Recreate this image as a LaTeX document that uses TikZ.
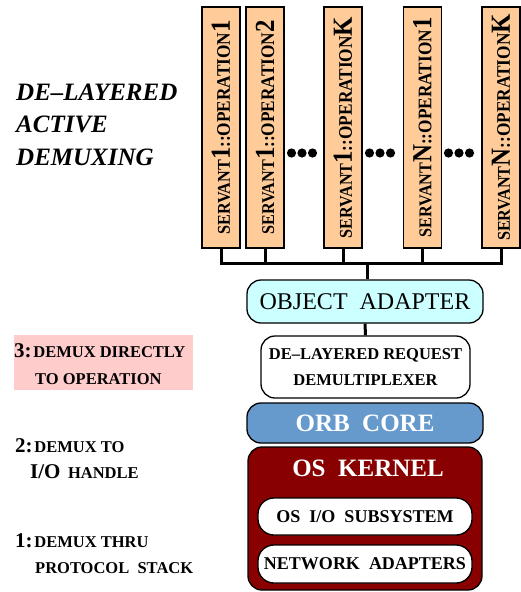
\documentclass[tikz,border=0pt]{standalone}
\usepackage{fontspec}
\setmainfont{Liberation Serif}
\definecolor{peach}{HTML}{FFCC99}
\definecolor{oacyan}{HTML}{CCFFFF}
\definecolor{orbblue}{HTML}{6699CC}
\definecolor{kernred}{HTML}{880000}
\definecolor{pinkbg}{HTML}{FFCCCC}
\newcommand{\fsz}[1]{\fontsize{#1}{#1}\selectfont}
\newcommand{\servtext}[2]{\rotatebox{90}{\scalebox{1.08}[1.2]{\bfseries\fsz{15}SERVANT{\fsz{23}#1}\fsz{16}::OPERATION{\fsz{23}#2}}}}
\begin{document}
\begin{tikzpicture}[x=1pt,y=-1pt,
  servant/.style={draw, line width=1.3pt, fill=peach, minimum width=38pt, minimum height=241pt, inner sep=0pt},
  layer/.style={draw, line width=1.3pt, rounded corners=14pt, inner sep=0pt, align=center},
  pill/.style={draw, line width=1.3pt, rounded corners=16pt, fill=white, minimum width=214pt, inner sep=0pt, font=\bfseries\fsz{18}},
  conn/.style={line width=3pt},
  lbl/.style={anchor=base west, inner sep=0pt, font=\bfseries},
  dot/.style={fill=black}
]
\useasboundingbox (0,0) rectangle (521,592);

% servant boxes
\node[servant] (s1) at (221,127.5) {\servtext{1}{1}};
\node[servant] (s2) at (265,127.5) {\servtext{1}{2}};
\node[servant] (s3) at (343,127.5) {\servtext{1}{K}};
\node[servant] (s4) at (422.5,127.5) {\servtext{N}{1}};
\node[servant] (s5) at (501,127.5) {\servtext{N}{K}};

% ellipses
\foreach \cx in {302,380,459}{
  \fill[dot] (\cx-10.5,153) circle (4.6pt);
  \fill[dot] (\cx,153) circle (4.6pt);
  \fill[dot] (\cx+10.5,153) circle (4.6pt);
}

% layers
\node[layer, fill=oacyan, minimum width=236pt, minimum height=43pt, font=\fsz{24}] (oa) at (365,301.5) {OBJECT\ \ ADAPTER};
\node[layer, fill=white, minimum width=209pt, minimum height=62pt, font=\bfseries\fontsize{16.5}{26}\selectfont] (dm) at (365.5,367) {DE--LAYERED REQUEST\\DEMULTIPLEXER};
\node[layer, fill=orbblue, minimum width=236pt, minimum height=40pt, text=white, font=\bfseries\fsz{25}] (orb) at (365,423) {ORB\ \ CORE};
\node[layer, fill=kernred, minimum width=234pt, minimum height=143pt] (os) at (365,518.5) {};
\node[inner sep=0pt, text=white, font=\bfseries\fsz{25}] (osk) at (368,468) {OS\ \ KERNEL};
\node[pill, minimum height=37pt] (io) at (365,516.5) {OS\ \ I/O\ \ SUBSYSTEM};
\node[pill, minimum height=38pt] (na) at (365,564) {NETWORK\ \ ADAPTERS};

% connectors
\coordinate (bus) at (367,263);
\draw[conn] (s1.south) -- (s1.south |- bus) -- (s5.south |- bus) -- (s5.south);
\draw[conn] (s2.south) -- (s2.south |- bus);
\draw[conn] (s3.south) -- (s3.south |- bus);
\draw[conn] (s4.south) -- (s4.south |- bus);
\draw[conn] (bus) -- (bus |- oa.north);
\draw[conn] (oa.south) -- (dm.north);

% left title
\node[lbl, font=\bfseries\itshape\fsz{25}] (t1) at (16,100) {DE--LAYERED};
\node[lbl, font=\bfseries\itshape\fsz{25}] (t2) at (16,132) {ACTIVE};
\node[lbl, font=\bfseries\itshape\fsz{25}] (t3) at (16,165) {DEMUXING};

% level labels
\node[fill=pinkbg, minimum width=179pt, minimum height=55pt, anchor=north west, inner sep=0pt] (l3box) at (14,335) {};
\node[lbl] (l3a) at (14,357) {{\fsz{21}3:}\,\fsz{16.5}DEMUX DIRECTLY};
\node[lbl, font=\bfseries\fsz{16.5}] (l3b) at (35,384) {TO OPERATION};
\node[lbl] (l2a) at (15,452) {{\fsz{21}2:}\,\fsz{16.5}DEMUX TO};
\node[lbl] (l2b) at (30,478) {{\fsz{21}I/O}\ \ \ \fsz{16.5}HANDLE};
\node[lbl] (l1a) at (15,547) {{\fsz{21}1:}\,\fsz{16.5}DEMUX THRU};
\node[lbl, font=\bfseries\fsz{16.5}] (l1b) at (35,573) {PROTOCOL\ \ STACK};
\end{tikzpicture}
\end{document}
